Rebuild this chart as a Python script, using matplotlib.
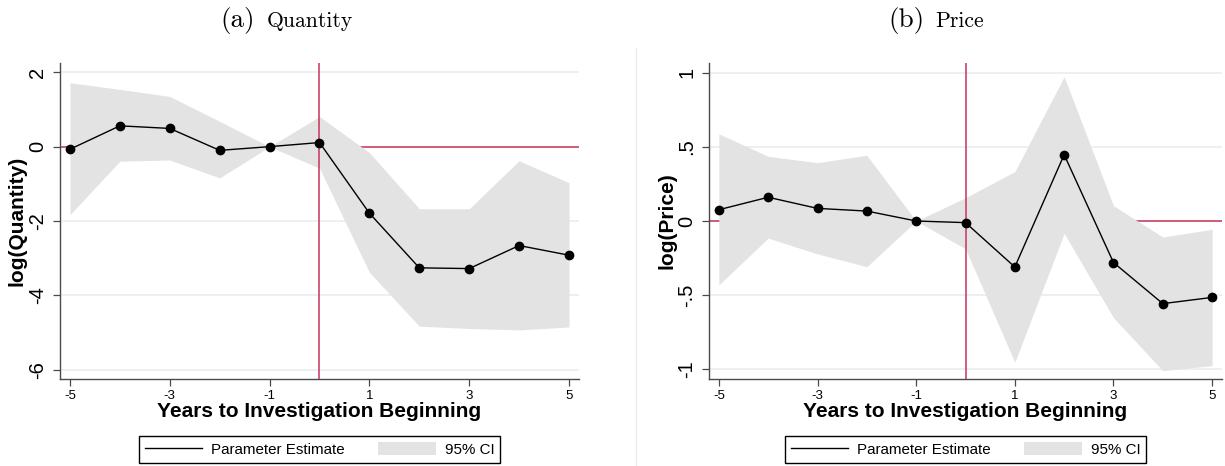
import numpy as np
import matplotlib
matplotlib.use("Agg")
import matplotlib.pyplot as plt
from matplotlib.lines import Line2D
from matplotlib.patches import Patch

# anni rispetto all'inizio dell'indagine
years = [-5, -4, -3, -2, -1, 0, 1, 2, 3, 4, 5]

# pannello (a): quantita'
qty_est = [-0.07, 0.56, 0.49, -0.10, 0.0, 0.11, -1.79, -3.26, -3.28, -2.66, -2.92]
qty_hi = [1.72, 1.54, 1.35, 0.68, 0.0, 0.81, -0.16, -1.67, -1.67, -0.38, -0.97]
qty_lo = [-1.83, -0.39, -0.36, -0.84, 0.0, -0.58, -3.38, -4.83, -4.89, -4.93, -4.85]

# pannello (b): prezzo
price_est = [0.076, 0.16, 0.085, 0.067, 0.0, -0.011, -0.31, 0.447, -0.28, -0.557, -0.515]
price_hi = [0.587, 0.436, 0.393, 0.443, 0.0, 0.157, 0.333, 0.973, 0.103, -0.108, -0.056]
price_lo = [-0.431, -0.115, -0.222, -0.308, 0.0, -0.187, -0.953, -0.083, -0.652, -1.009, -0.975]

xticks = [-5, -3, -1, 1, 3, 5]
qty_yticks = [2, 0, -2, -4, -6]
qty_ylabels = ["2", "0", "-2", "-4", "-6"]
price_yticks = [1, 0.5, 0, -0.5, -1]
price_ylabels = ["1", ".5", "0", "-.5", "-1"]

W, H = 1225, 466
red = "#c6345a"
band = "#e3e3e3"
grid_c = "#e8eff1"
spine_c = "#4a4a4a"
sans = ["Liberation Sans", "DejaVu Sans"]


def event_panel(ax, est, lo, hi, yticks, ylabels, ylim, ylabel):
    ax.axhline(0, color=red, lw=1.1, zorder=1)
    ax.fill_between(years, lo, hi, color=band, lw=0, zorder=2)
    ax.axvline(0, color=red, lw=1.1, zorder=3)
    ax.plot(years, est, color="black", lw=1.0, marker="o", ms=6, zorder=4)

    ax.set_xlim(-5.2, 5.2)
    ax.set_ylim(*ylim)
    ax.set_xticks(xticks)
    ax.set_xticklabels([str(v) for v in xticks], fontsize=9.5, family=sans)
    ax.set_yticks(yticks)
    ax.set_yticklabels(ylabels, fontsize=14.5, family=sans, rotation=90, va="center")
    ax.grid(axis="y", color=grid_c, lw=1.2, zorder=0)
    ax.set_axisbelow(True)

    for s in ["top", "right"]:
        ax.spines[s].set_visible(False)
    for s in ["left", "bottom"]:
        ax.spines[s].set_color(spine_c)
        ax.spines[s].set_linewidth(1.0)
    ax.tick_params(axis="both", direction="out", length=5, width=0.9, color=spine_c)
    ax.tick_params(axis="x", pad=3)
    ax.tick_params(axis="y", pad=4)

    ax.set_xlabel("Years to Investigation Beginning", fontsize=15, fontweight="bold", family=sans)
    ax.xaxis.set_label_coords(0.5, -0.073)
    ax.set_ylabel(ylabel, fontsize=15, fontweight="bold", family=sans)
    ax.yaxis.set_label_coords(-0.064, 0.5)

    handles = [Line2D([], [], color="black", lw=1.0),
               Patch(facecolor=band, edgecolor="none")]
    leg = ax.legend(handles, ["Parameter Estimate", "95% CI"], ncol=2,
                    loc="center", bbox_to_anchor=(0.5, -0.222),
                    prop={"family": sans, "size": 10.9},
                    handlelength=3.8, handleheight=1.0, handletextpad=0.6,
                    columnspacing=2.2, borderpad=0.4, fancybox=False,
                    edgecolor="black", framealpha=1)
    leg.get_frame().set_linewidth(1.0)


fig = plt.figure(figsize=(W / 100, H / 100), dpi=100)

axA = fig.add_axes([60 / W, 1 - 379 / H, 519 / W, 316 / H])
axB = fig.add_axes([709 / W, 1 - 379 / H, 513 / W, 316 / H])

event_panel(axA, qty_est, qty_lo, qty_hi, qty_yticks, qty_ylabels, (-6.25, 2.25), "log(Quantity)")
event_panel(axB, price_est, price_lo, price_hi, price_yticks, price_ylabels, (-1.065, 1.065), "log(Price)")

# titoli dei sottografici in stile LaTeX
fig.text(220 / W, 1 - 27 / H, "(a)", family="cmr10", fontsize=19.5, va="baseline")
fig.text(267 / W, 1 - 27 / H, "Quantity", family="cmr10", fontsize=15.6, va="baseline")
fig.text(888 / W, 1 - 27 / H, "(b)", family="cmr10", fontsize=19.5, va="baseline")
fig.text(935 / W, 1 - 27 / H, "Price", family="cmr10", fontsize=15.6, va="baseline")

# bordo chiaro del secondo grafico
fig.add_artist(Line2D([636 / W, 636 / W], [0, 1 - 48 / H], color="#e6edf0", lw=1.0))

fig.savefig("out.png", dpi=100)
